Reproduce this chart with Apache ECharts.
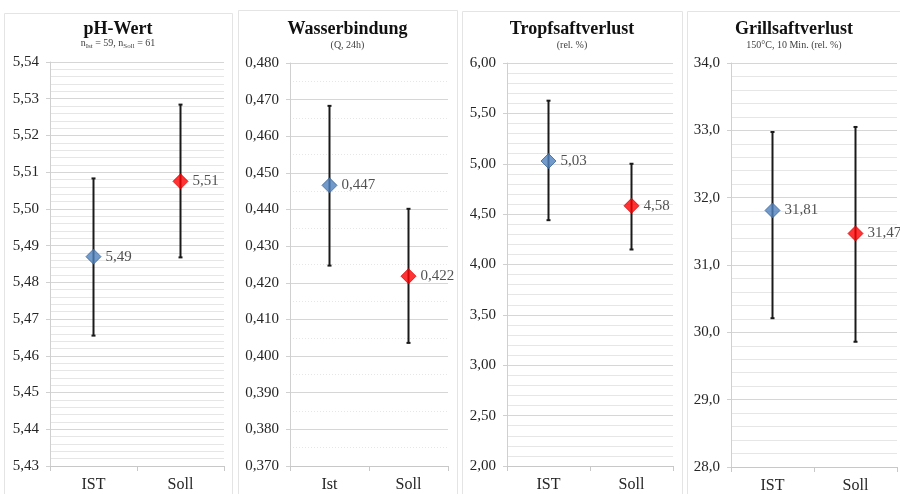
<!DOCTYPE html>
<html>
<head>
<meta charset="utf-8">
<title>Fleischqualität IST / Soll</title>
<script src="https://cdn.jsdelivr.net/npm/echarts@6/dist/echarts.min.js"></script>
<style>
  html, body { margin: 0; padding: 0; background: #ffffff; }
  #chart { width: 900px; height: 494px; }
</style>
</head>
<body>
<div id="chart"></div>
<script>
// ---- data: mean with lower / upper end of the error bar ----
const phCats = ['IST', 'Soll'];
const phMean = [5.487, 5.5075];
const phLow  = [5.4655, 5.4868];
const phHigh = [5.5083, 5.5284];
const phTicks = { min: 5.43, max: 5.54, step: 0.01 };

const wbCats = ['Ist', 'Soll'];
const wbMean = [0.4466, 0.4218];
const wbLow  = [0.4247, 0.4036];
const wbHigh = [0.4683, 0.4402];
const wbTicks = { min: 0.37, max: 0.48, step: 0.01 };

const tsCats = ['IST', 'Soll'];
const tsMean = [5.027, 4.583];
const tsLow  = [4.440, 4.149];
const tsHigh = [5.626, 5.000];
const tsTicks = { min: 2.0, max: 6.0, step: 0.5 };

const gsCats = ['IST', 'Soll'];
const gsMean = [31.81, 31.468];
const gsLow  = [30.21, 29.86];
const gsHigh = [32.975, 33.05];
const gsTicks = { min: 28.0, max: 34.0, step: 1.0 };

// ---- look ----
const SERIF = '"Liberation Serif", "DejaVu Serif", serif';
const BLUE = '#4f81bd';
const RED = '#ff0000';
const comma = (v, d) => v.toFixed(d).replace('.', ',');

const panels = [
  { cats: phCats, mean: phMean, low: phLow, high: phHigh, ticks: phTicks, axisDec: 2, valDec: 2, minor: 5, minorType: 'solid',
    grid: { left: 50, top: 62, width: 174, height: 404 } },
  { cats: wbCats, mean: wbMean, low: wbLow, high: wbHigh, ticks: wbTicks, axisDec: 3, valDec: 3, minor: 2, minorType: [1, 2],
    grid: { left: 290, top: 63, width: 158, height: 403 } },
  { cats: tsCats, mean: tsMean, low: tsLow, high: tsHigh, ticks: tsTicks, axisDec: 2, valDec: 2, minor: 5, minorType: 'solid',
    grid: { left: 507, top: 63, width: 166, height: 403 } },
  { cats: gsCats, mean: gsMean, low: gsLow, high: gsHigh, ticks: gsTicks, axisDec: 1, valDec: 2, minor: 5, minorType: 'solid',
    grid: { left: 731, top: 63, width: 166, height: 404 } }
];

const grids = [], xAxes = [], yAxes = [], series = [];

panels.forEach((p, i) => {
  grids.push(Object.assign({ containLabel: false }, p.grid));

  xAxes.push({
    type: 'category', gridIndex: i, data: p.cats, boundaryGap: true,
    axisLine: { lineStyle: { color: '#c8c8c8', width: 1 } },
    axisTick: { show: true, length: 5, lineStyle: { color: '#c8c8c8' } },
    axisLabel: { color: '#262626', fontFamily: SERIF, fontSize: 16, margin: 11 },
    splitLine: { show: false }
  });

  const dec = p.axisDec;
  yAxes.push({
    type: 'value', gridIndex: i,
    min: p.ticks.min, max: p.ticks.max, interval: p.ticks.step,
    axisLine: { show: true, lineStyle: { color: '#d0d0d0', width: 1 } },
    axisTick: { show: true, length: 4, lineStyle: { color: '#d0d0d0' } },
    axisLabel: { color: '#262626', fontFamily: SERIF, fontSize: 15, margin: 11,
                 formatter: v => comma(v, dec) },
    splitLine: { show: true, lineStyle: { color: '#d6d6d6', width: 1 } },
    minorTick: { show: false, splitNumber: p.minor },
    minorSplitLine: { show: true, lineStyle: { color: '#e6e6e6', width: 1, type: p.minorType } }
  });

  // whiskers
  series.push({
    type: 'custom', xAxisIndex: i, yAxisIndex: i, z: 3,
    data: p.cats.map((c, k) => [k, p.low[k], p.high[k]]),
    encode: { x: 0, y: [1, 2] },
    renderItem: (params, api) => {
      const top = api.coord([api.value(0), api.value(2)]);
      const bot = api.coord([api.value(0), api.value(1)]);
      const cap = 2;
      const st = { stroke: '#1a1a1a', lineWidth: 2 };
      return {
        type: 'group',
        children: [
          { type: 'line', shape: { x1: top[0], y1: top[1], x2: bot[0], y2: bot[1] }, style: st },
          { type: 'line', shape: { x1: top[0] - cap, y1: top[1], x2: top[0] + cap, y2: top[1] }, style: st },
          { type: 'line', shape: { x1: bot[0] - cap, y1: bot[1], x2: bot[0] + cap, y2: bot[1] }, style: st }
        ]
      };
    }
  });

  // mean markers with value labels
  const vdec = p.valDec;
  series.push({
    type: 'scatter', xAxisIndex: i, yAxisIndex: i, z: 5,
    symbol: 'diamond', symbolSize: 15,
    data: p.cats.map((c, k) => ({
      value: [k, p.mean[k]],
      itemStyle: k === 0
        ? { color: BLUE, borderColor: '#3c6496', borderWidth: 1 }
        : { color: RED, borderColor: '#e00000', borderWidth: 1 }
    })),
    label: {
      show: true, position: 'right', distance: 4,
      color: '#262626', fontFamily: SERIF, fontSize: 15,
      formatter: prm => comma(prm.value[1], vdec)
    },
    emphasis: { disabled: true }
  });
});

// panel frames and headings
const frames = [
  { x: 4, y: 13, w: 228 },
  { x: 238, y: 10, w: 219 },
  { x: 462, y: 11, w: 220 },
  { x: 687, y: 11, w: 220 }
];
const headings = ['pH-Wert', 'Wasserbindung', 'Tropfsaftverlust', 'Grillsaftverlust'];
const subheads = [
  null,
  '(Q, 24h)',
  '(rel. %)',
  '150°C, 10 Min. (rel. %)'
];

const graphic = [];
frames.forEach((f, i) => {
  graphic.push({
    type: 'rect', z: -10, silent: true,
    shape: { x: f.x + 0.5, y: f.y + 0.5, width: f.w, height: 494 },
    style: { fill: 'none', stroke: '#e4e4e4', lineWidth: 1 }
  });
  const cx = f.x + f.w / 2 - (i === 3 ? 3 : 0);
  graphic.push({
    type: 'text', silent: true, x: cx, y: 29,
    style: { text: headings[i], font: 'bold 18px ' + SERIF, fill: '#111111',
             textAlign: 'center', textVerticalAlign: 'middle', align: 'center', verticalAlign: 'middle' }
  });
  if (subheads[i]) {
    graphic.push({
      type: 'text', silent: true, x: cx, y: 45,
      style: { text: subheads[i], font: '10px ' + SERIF, fill: '#404040',
               textAlign: 'center', textVerticalAlign: 'middle', align: 'center', verticalAlign: 'middle' }
    });
  }
});
// pH subtitle with subscripts
graphic.push({
  type: 'text', silent: true, x: 118, y: 44,
  style: {
    text: '{m|n}{s|Ist}{m| = 59, n}{s|Soll}{m| = 61}',
    align: 'center', verticalAlign: 'middle', textAlign: 'center', textVerticalAlign: 'middle',
    fill: '#404040',
    rich: {
      m: { fontFamily: SERIF, fontSize: 10, lineHeight: 12, fill: '#404040', verticalAlign: 'top' },
      s: { fontFamily: SERIF, fontSize: 7, lineHeight: 12, fill: '#404040', verticalAlign: 'top', padding: [5, 0, 0, 0] }
    }
  }
});

const chart = echarts.init(document.getElementById('chart'), null, { renderer: 'canvas' });
chart.setOption({
  animation: false,
  backgroundColor: '#ffffff',
  grid: grids,
  xAxis: xAxes,
  yAxis: yAxes,
  series: series,
  graphic: graphic
});
</script>
</body>
</html>
